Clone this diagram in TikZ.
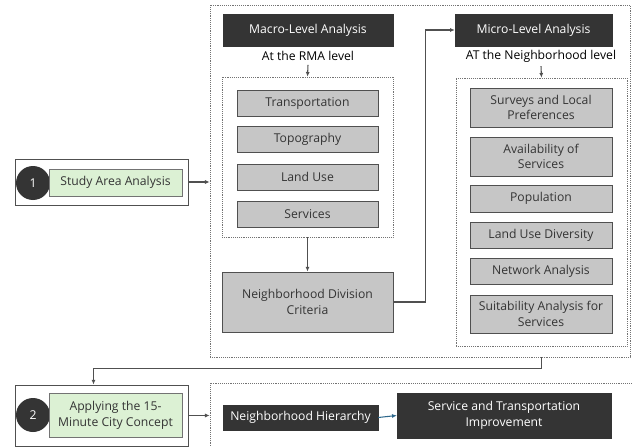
\documentclass[tikz,border=0pt]{standalone}
\usepackage{fontspec}
\setmainfont{Open Sans}
\usetikzlibrary{arrows.meta}
\definecolor{boxdark}{RGB}{52,52,52}
\definecolor{boxgray}{RGB}{198,198,198}
\definecolor{boxline}{RGB}{80,80,80}
\definecolor{boxgreen}{RGB}{220,241,212}
\definecolor{linkblue}{RGB}{46,104,140}
\tikzset{
  sz/.style 2 args={minimum width=#1*0.03cm, minimum height=#2*0.03cm},
  darkbox/.style={fill=boxdark, draw=boxdark, text=white, align=center, inner sep=0pt},
  greybox/.style={fill=boxgray, draw=boxline, line width=0.8pt, text=boxdark, align=center, inner sep=0pt},
  greenbox/.style={fill=boxgreen, draw=boxline!80, line width=0.8pt, text=boxdark, align=center, inner sep=0pt},
  dotbox/.style={draw=boxline!80, densely dotted, line width=0.6pt, inner sep=0pt},
  stepbox/.style={draw=boxline, line width=0.75pt, fill=white, inner sep=0pt},
  numdot/.style={circle, fill=boxdark, text=white, minimum size=34*0.03cm, inner sep=0pt},
  link/.style={-{Latex[length=4pt,width=3.5pt]}, draw=boxline, line width=0.9pt}
}
\def\gbox#1#2#3#4{\node[greybox, sz={142}{#3}] (#1) at (541,#2) {#4};}

\begin{document}
\begin{tikzpicture}[x=0.03cm, y=-0.03cm, every node/.style={font=\fontsize{10.4}{13.4}\selectfont}]
    \useasboundingbox (0,0) rectangle (633,447);
    % frames
    \node[dotbox, sz={420}{352}] (anbox) at (420,181) {};
    \node[dotbox, sz={171}{160}] (mainner) at (307.5,157) {};
    \node[dotbox, sz={171}{268}] (miinner) at (541.5,212) {};
    \node[dotbox, sz={430}{75}] (hbox) at (425,420.5) {};
    % step 1
    \node[stepbox, sz={173}{46}] (s1box) at (101.5,182) {};
    \node[numdot] (c1) at (33,183) {1};
    \node[greenbox, sz={133}{27}] (g1) at (115.5,182.5) {Study Area Analysis};
    % macro side
    \node[darkbox, sz={170}{32}] (macro) at (308,30) {Macro-Level Analysis};
    \node (rma) at (308,56) {At the RMA level};
    \node[greybox, sz={141}{26}] (trans) at (307.5,103.5) {Transportation};
    \node[greybox, sz={141}{26}] (topo) at (307.5,139.5) {Topography};
    \node[greybox, sz={141}{26}] (land) at (307.5,177) {Land Use};
    \node[greybox, sz={141}{26}] (serv) at (307.5,214) {Services};
    \node[greybox, sz={171}{60}] (ndc) at (307.5,302) {Neighborhood Division\\Criteria};
    % micro side
    \node[darkbox, sz={157}{32}] (micro) at (533.5,30) {Micro-Level Analysis};
    \node (nbh) at (541,56) {AT the Neighborhood level};
    \gbox{surv}{107.5}{39}{Surveys and Local\\Preferences}
    \gbox{avail}{156.5}{39}{Availability of\\Services}
    \gbox{pop}{198.5}{27}{Population}
    \gbox{lud}{235}{26}{Land Use Diversity}
    \gbox{net}{271}{26}{Network Analysis}
    \gbox{suit}{314}{38}{Suitability Analysis for\\Services}
    % step 2
    \node[stepbox, sz={173}{61}] (s2box) at (101.5,415.5) {};
    \node[numdot] (c2) at (33,415) {2};
    \node[greenbox, sz={133}{44}] (g2) at (115.5,415) {Applying the 15-\\Minute City Concept};
    \node[darkbox, sz={155}{25}] (nh) at (300.5,417.5) {Neighborhood Hierarchy};
    \node[darkbox, sz={214}{45}] (sti) at (504,415.5) {Service and Transportation\\Improvement};
    % links
    \draw[link] (s1box.east) -- (s1box.east -| anbox.west);
    \draw[link] (rma.south) -- (mainner.north);
    \draw[link] (nbh.south) -- (miinner.north);
    \draw[link] (mainner.south) -- (ndc.north);
    \draw[link] (ndc.east) -- ++(32,0) |- (micro.west);
    \draw[link] (anbox.south -| miinner.south) -- ++(0,11) -| ([xshift=-8*0.03cm]s2box.north);
    \draw[link] (s2box.east) -- (s2box.east -| hbox.west);
    \draw[link, draw=linkblue] (nh.east) -- (sti.west);
\end{tikzpicture}
\end{document}
